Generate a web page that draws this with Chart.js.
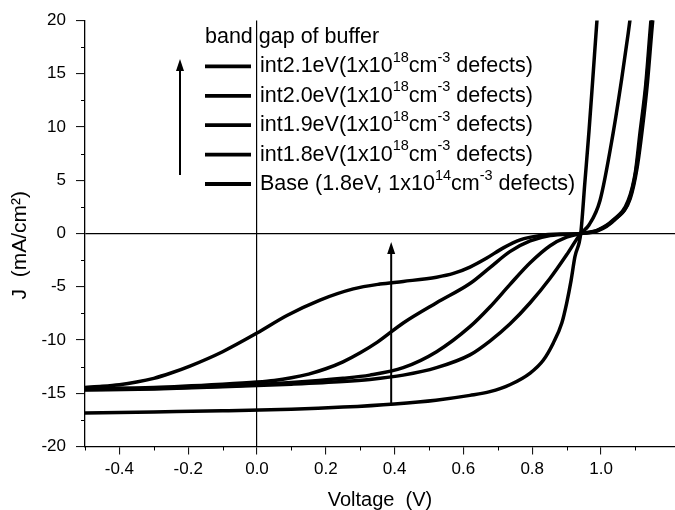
<!DOCTYPE html>
<html><head><meta charset="utf-8">
<script src="https://cdn.jsdelivr.net/npm/chart.js@4/dist/chart.umd.min.js"></script>
<style>html,body{margin:0;padding:0;background:#fff}#wrap{width:675px;height:510px}</style>
</head><body><div id="wrap"><canvas id="c" width="675" height="510"></canvas></div>
<script>
const FONT = "'Liberation Sans', Arial, Helvetica, sans-serif";

// Tick labels
const xTickLabels = ['-0.4','-0.2','0.0','0.2','0.4','0.6','0.8','1.0','1.2'];
const yTickLabels = ['-20','-15','-10','-5','0','5','10','15','20'];

// Series: voltage (V) and current density J (mA/cm^2)
const vInt21 = [-0.5,-0.45,-0.4,-0.35,-0.3,-0.25,-0.195,-0.1,0.0,0.087,0.183,0.28,0.357,0.425,0.522,0.571,0.619,0.668,0.716,0.765,0.82,0.88,0.941,0.99,1.035,1.08,1.1,1.115,1.13,1.145,1.153];
const jInt21 = [-14.45,-14.35,-14.2,-13.95,-13.6,-13.1,-12.45,-11.1,-9.35,-7.7,-6.25,-5.2,-4.75,-4.5,-4.1,-3.75,-3.15,-2.3,-1.35,-0.6,-0.2,-0.05,0,0.3,1.2,3.0,5.6,9.2,13.5,19.0,22];

const vInt20 = [-0.5,-0.3,-0.1,0.0,0.05,0.1,0.15,0.2,0.25,0.3,0.35,0.425,0.522,0.619,0.677,0.735,0.794,0.852,0.941,0.99,1.04,1.085,1.105,1.12,1.135,1.148,1.156];
const jInt20 = [-14.55,-14.45,-14.15,-13.95,-13.8,-13.55,-13.2,-12.7,-12.05,-11.2,-10.2,-8.4,-6.5,-4.7,-3.2,-1.7,-0.7,-0.2,0,0.25,1.3,3.3,6.2,9.8,14.2,19.2,22];

const vInt19 = [-0.5,-0.3,-0.1,0.1,0.25,0.328,0.425,0.522,0.619,0.677,0.735,0.794,0.852,0.9,0.941,0.99,1.035,1.079,1.1,1.113,1.13,1.142,1.15];
const jInt19 = [-14.65,-14.55,-14.35,-14.0,-13.6,-13.3,-12.6,-11.1,-8.75,-6.9,-4.8,-2.75,-1.15,-0.35,0,0.33,1.27,3.1,5.8,9.4,14.0,18.8,22];

const vInt18 = [-0.5,-0.3,-0.1,0.1,0.25,0.328,0.425,0.522,0.619,0.677,0.735,0.794,0.852,0.9,0.941,0.965,0.997,1.035,1.06,1.079,1.09];
const jInt18 = [-14.7,-14.6,-14.4,-14.15,-13.9,-13.7,-13.3,-12.6,-11.4,-10.1,-8.5,-6.5,-4.2,-2.0,0,0.8,3.1,9.4,14.5,18.8,21.5];

const vBase = [-0.5,-0.3,-0.1,0.1,0.25,0.4,0.52,0.619,0.677,0.735,0.794,0.832,0.861,0.886,0.9,0.913,0.924,0.941,0.953,0.965,0.976,0.987,0.995];
const jBase = [-16.85,-16.75,-16.65,-16.5,-16.3,-16.0,-15.65,-15.2,-14.85,-14.2,-13.1,-11.9,-10.3,-8.4,-6.55,-4.4,-2.2,0,4.8,9.6,14.5,19.5,23];

// Legend text
const legendTitle = 'band gap of buffer';
const legendRows = [
  [['int2.1eV(1x10',0],['18',1],['cm',0],['-3',1],[' defects)',0]],
  [['int2.0eV(1x10',0],['18',1],['cm',0],['-3',1],[' defects)',0]],
  [['int1.9eV(1x10',0],['18',1],['cm',0],['-3',1],[' defects)',0]],
  [['int1.8eV(1x10',0],['18',1],['cm',0],['-3',1],[' defects)',0]],
  [['Base (1.8eV, 1x10',0],['14',1],['cm',0],['-3',1],[' defects)',0]]
];
// Arrow inside plot (data units)
const arrowV = 0.39, arrowJFrom = -16.0, arrowJTo = -0.8;

function pts(v, j){ return v.map((x,i)=>({x:x, y:j[i]})); }
const seriesV = [vInt21, vInt20, vInt19, vInt18, vBase];
const seriesJ = [jInt21, jInt20, jInt19, jInt18, jBase];

const datasets = seriesV.map((v,i)=>({
  data: pts(v, seriesJ[i]),
  showLine: true,
  borderColor: '#000',
  borderWidth: 3.5,
  pointRadius: 0,
  cubicInterpolationMode: 'monotone',
  fill: false
}));

function isMajorX(v){ return xTickLabels.includes((Math.round(v*10)/10).toFixed(1)); }
function isMajorY(v){ return yTickLabels.includes(String(Math.round(v*10)/10)); }
const near0 = v => Math.abs(v) < 1e-9;

function drawArrow(ctx, x, y0, y1, lw){
  ctx.lineWidth = lw;
  ctx.beginPath(); ctx.moveTo(x, y0); ctx.lineTo(x, y1 + 10); ctx.stroke();
  ctx.beginPath(); ctx.moveTo(x, y1); ctx.lineTo(x - 4, y1 + 12); ctx.lineTo(x + 4, y1 + 12); ctx.closePath(); ctx.fill();
}

const extras = {
  id: 'extras',
  afterDraw(chart){
    const {ctx, chartArea:a, scales:{x, y}} = chart;
    ctx.save();
    ctx.strokeStyle = '#000'; ctx.fillStyle = '#000';
    // minor ticks
    ctx.lineWidth = 1;
    x.ticks.forEach(t => {
      if (!isMajorX(t.value) && Math.abs(t.value*10 - Math.round(t.value*10)) < 1e-6) {
        const px = Math.round(x.getPixelForValue(t.value)) + 0.5;
        ctx.beginPath(); ctx.moveTo(px, a.bottom); ctx.lineTo(px, a.bottom + 4); ctx.stroke();
      }
    });
    y.ticks.forEach(t => {
      if (!isMajorY(t.value)) {
        const py = Math.round(y.getPixelForValue(t.value)) + 0.5;
        ctx.beginPath(); ctx.moveTo(a.left - 4, py); ctx.lineTo(a.left, py); ctx.stroke();
      }
    });
    // legend
    const lx = 205, ty = 37, rowH = 29.4;
    ctx.textBaseline = 'middle'; ctx.textAlign = 'left';
    ctx.font = '21.5px ' + FONT;
    ctx.fillText(legendTitle, lx, ty);
    legendRows.forEach((parts, i) => {
      const yy = ty + rowH * (i + 1);
      ctx.lineWidth = 3.8;
      ctx.beginPath(); ctx.moveTo(lx, yy); ctx.lineTo(lx + 46, yy); ctx.stroke();
      let xx = lx + 55;
      parts.forEach(([txt, sup]) => {
        if (sup) {
          ctx.font = '14.5px ' + FONT;
          ctx.fillText(txt, xx, yy - 8.5);
        } else {
          ctx.font = '21.5px ' + FONT;
          ctx.fillText(txt, xx, yy);
        }
        xx += ctx.measureText(txt).width;
      });
    });
    // arrows
    drawArrow(ctx, 180, 175, 59, 2);
    drawArrow(ctx, x.getPixelForValue(arrowV), y.getPixelForValue(arrowJFrom), y.getPixelForValue(arrowJTo), 2);
    ctx.restore();
  }
};

new Chart(document.getElementById('c'), {
  type: 'scatter',
  data: { datasets },
  options: {
    responsive: false,
    animation: false,
    devicePixelRatio: 1,
    layout: { padding: { top: 20.5, right: 0, bottom: 0, left: 0 } },
    plugins: { legend: { display: false }, tooltip: { enabled: false } },
    scales: {
      x: {
        type: 'linear', min: -0.5, max: 1.215,
        afterFit: s => { s.height = 63.5; s.paddingLeft = 0; s.paddingRight = 0; },
        ticks: {
          stepSize: 0.1, autoSkip: false, maxRotation: 0, minRotation: 0,
          color: '#000', font: { family: FONT, size: 17 }, padding: 5,
          callback: v => { const s = (Math.round(v*10)/10).toFixed(1); return (Math.abs(v*10-Math.round(v*10))<1e-6 && xTickLabels.includes(s)) ? s : ''; }
        },
        grid: {
          drawOnChartArea: true, drawTicks: true, tickLength: 8,
          color: c => (c.tick && near0(c.tick.value)) ? '#000' : 'rgba(0,0,0,0)',
          lineWidth: 1.2,
          tickColor: c => (c.tick && isMajorX(c.tick.value) && Math.abs(c.tick.value*10-Math.round(c.tick.value*10))<1e-6) ? '#000' : 'rgba(0,0,0,0)',
          tickWidth: 1
        },
        border: { display: true, color: '#000', width: 1.3 },
        title: { display: true, text: 'Voltage  (V)', color: '#000', font: { family: FONT, size: 20, lineHeight: 1 }, padding: { top: 0, bottom: 0 } }
      },
      y: {
        type: 'linear', min: -20, max: 20,
        afterFit: s => { s.width = 85; },
        ticks: {
          stepSize: 2.5, autoSkip: false, color: '#000', font: { family: FONT, size: 17 }, padding: 10,
          callback: v => { const s = String(Math.round(v*10)/10); return yTickLabels.includes(s) ? s : ''; }
        },
        grid: {
          drawOnChartArea: true, drawTicks: true, tickLength: 9,
          color: c => (c.tick && near0(c.tick.value)) ? '#000' : 'rgba(0,0,0,0)',
          lineWidth: 1.2,
          tickColor: c => (c.tick && isMajorY(c.tick.value)) ? '#000' : 'rgba(0,0,0,0)',
          tickWidth: 1
        },
        border: { display: true, color: '#000', width: 1.3 },
        title: { display: true, text: 'J  (mA/cm²)    ', color: '#000', font: { family: FONT, size: 21, lineHeight: 1 }, padding: { top: 10, bottom: 0 } }
      }
    }
  },
  plugins: [extras]
});
</script>
</body></html>
